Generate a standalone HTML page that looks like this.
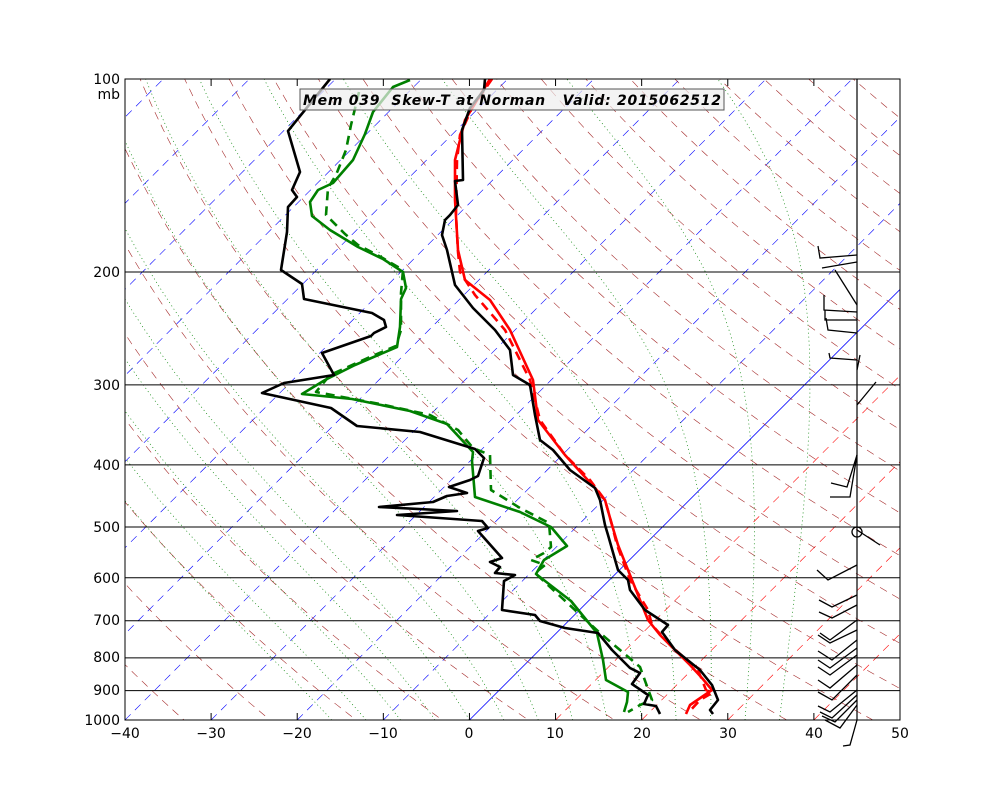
<!DOCTYPE html>
<html><head><meta charset="utf-8"><style>
body{margin:0;background:#fff;}
svg{display:block;font-family:"DejaVu Sans","Liberation Sans",sans-serif;}
</style></head><body>
<svg id="s" width="1000" height="800" xmlns="http://www.w3.org/2000/svg">
<defs><clipPath id="c"><rect x="125" y="79" width="775" height="641"/></clipPath></defs>
<g id="bg" clip-path="url(#c)"></g>
<g id="hl" stroke="#000" stroke-width="1"></g>
<g id="prof" clip-path="url(#c)" fill="none" stroke-width="2.6" stroke-linejoin="round"></g>
<g id="barbs" stroke="#000" stroke-width="1.3" fill="none"></g>
<line x1="857" y1="79" x2="857" y2="720" stroke="#000" stroke-width="1.2"/>
<rect x="125" y="79" width="775" height="641" fill="none" stroke="#000" stroke-width="1"/>
<g id="ticks" stroke="#000" stroke-width="1"></g>
<rect x="300" y="89" width="424" height="21" fill="#eee" fill-opacity="0.7" stroke="#555" stroke-width="1"/>
<text x="512" y="105" font-size="14" font-weight="bold" font-style="italic" text-anchor="middle" textLength="418" xml:space="preserve">Mem 039  Skew-T at Norman   Valid: 2015062512</text>
<g font-size="14" text-anchor="end">
<text x="120" y="84">100</text><text x="120" y="99">mb</text>
<text x="120" y="277">200</text><text x="120" y="390">300</text><text x="120" y="470">400</text>
<text x="120" y="532">500</text><text x="120" y="583">600</text><text x="120" y="625">700</text>
<text x="120" y="662">800</text><text x="120" y="695">900</text><text x="120" y="725">1000</text>
</g>
<g font-size="14" text-anchor="middle">
<text x="125" y="738">−40</text><text x="211" y="738">−30</text><text x="297" y="738">−20</text>
<text x="383" y="738">−10</text><text x="469" y="738">0</text><text x="555" y="738">10</text>
<text x="642" y="738">20</text><text x="728" y="738">30</text><text x="814" y="738">40</text>
<text x="900" y="738">50</text>
</g>
</svg>
<script>
var NS="http://www.w3.org/2000/svg";
function Y(p){return 720-Math.log10(1000/p)*641;}
function X(T,y){return 125+(T+40)*8.611+(720-y);}
function el(g,tag,a){var e=document.createElementNS(NS,tag);for(var k in a)e.setAttribute(k,a[k]);document.getElementById(g).appendChild(e);return e;}
function pl(g,pts,a){a.points=pts.map(function(p){return p[0].toFixed(1)+","+p[1].toFixed(1)}).join(" ");a.fill="none";return el(g,"polyline",a);}
for(var T=-120;T<=50;T+=10){
 var col=T<=0?"#0000ff":"#ff0000";
 var a={stroke:col,"stroke-width":T==0?0.8:0.6};
 if(T!=0)a["stroke-dasharray"]="8,6";
 el("bg","line",Object.assign({x1:X(T,720),y1:720,x2:X(T,79),y2:79},a));
}
for(var th=230;th<=480;th+=10){
 var pts=[];for(var p=1050;p>=95;p-=10){var t=th*Math.pow(p/1000,0.286)-273.15;var y=Y(p);pts.push([X(t,y),y]);}
 pl("bg",pts,{stroke:"#a52a2a","stroke-width":0.6,"stroke-dasharray":"8,6"});
}
function es(t){return 6.112*Math.exp(17.67*t/(t+243.5));}
for(var T0=-16;T0<=36;T0+=4){
 var t=T0+273.15,pts=[],p=1000;
 while(p>=95){var y=Y(p);pts.push([X(t-273.15,y),y]);
  var e=es(t-273.15),rs=0.622*e/(p-e);
  var dT=(287*t+2.5e6*rs)/(1004+2.5e6*2.5e6*rs*0.622/(287*t*t))/p;
  t-=dT*5;p-=5;}
 pl("bg",pts,{stroke:"#008000","stroke-width":0.7,"stroke-dasharray":"1,3"});
}
[200,300,400,500,600,700,800,900].forEach(function(p){var y=Y(p);el("hl","line",{x1:125,y1:y,x2:900,y2:y});});
for(var i=0;i<=9;i++){var x=125+i*86.11;el("ticks","line",{x1:x,y1:720,x2:x,y2:713});el("ticks","line",{x1:x,y1:79,x2:x,y2:86});}
var blk1=[[330,79],[288,131],[300,172],[292,190],[297,197],[288,207],[287,232],[281,270],[302,284],[304,299],[372,313],[384,320],[386,327],[374,333],[371,336],[322,353],[334,375],[284,383],[262,393],[331,408],[357,426],[420,432],[475,449],[484,458],[478,476],[470,480],[449,487],[467,493],[447,496],[433,502],[379,507],[457,511],[397,515],[482,521],[488,528],[478,531],[502,558],[490,562],[500,567],[495,573],[515,575],[504,581],[502,610],[535,615],[540,621],[565,628],[598,633],[612,650],[630,668],[640,673],[632,684],[648,695],[644,704],[656,706],[660,714]];
var grn=[[410,80],[393,87],[373,112],[365,134],[353,160],[333,183],[318,190],[310,202],[312,216],[330,230],[358,247],[383,259],[403,272],[406,288],[401,299],[400,327],[397,347],[355,365],[325,380],[302,394],[352,399],[410,411],[447,424],[473,452],[472,461],[475,497],[520,512],[551,527],[567,546],[544,560],[536,574],[571,601],[597,633],[603,660],[606,680],[628,692],[627,702],[624,712]];
var grnd=[[359,92],[351,125],[346,150],[336,175],[328,188],[326,215],[345,234],[358,245],[381,257],[403,270],[401,293],[401,330],[396,346],[370,357],[330,375],[316,392],[380,404],[430,415],[458,430],[473,448],[490,455],[491,490],[520,508],[549,523],[551,547],[544,553],[531,560],[545,565],[535,573],[575,610],[600,633],[640,667],[652,700],[640,705],[628,712]];
var redd=[[492,79],[472,108],[460,135],[457,160],[456,215],[458,252],[460,272],[475,295],[505,330],[530,380],[540,420],[565,455],[590,480],[605,500],[612,525],[617,545],[630,580],[648,610],[652,625],[670,645],[698,670],[706,690],[712,693],[700,700],[688,713]];
var red=[[490,79],[465,120],[455,160],[455,200],[458,250],[465,280],[490,300],[510,330],[533,380],[538,420],[565,455],[595,488],[605,500],[612,525],[618,545],[628,570],[640,600],[648,620],[660,635],[690,665],[702,678],[712,690],[690,705],[686,714]];
var blk2=[[485,79],[484,90],[470,108],[462,130],[463,180],[455,181],[458,205],[450,215],[445,220],[442,235],[447,250],[455,285],[473,308],[495,330],[510,350],[513,375],[530,385],[535,415],[540,440],[553,450],[570,470],[595,488],[600,500],[605,525],[608,535],[618,570],[628,580],[630,590],[645,610],[668,625],[662,632],[675,650],[700,670],[712,685],[718,700],[710,710],[713,714]];
pl("prof",grnd,{stroke:"#008000","stroke-dasharray":"9,6"});
pl("prof",grn,{stroke:"#008000"});
pl("prof",blk1,{stroke:"#000"});
pl("prof",redd,{stroke:"#ff0000","stroke-dasharray":"9,6"});
pl("prof",red,{stroke:"#ff0000"});
pl("prof",blk2,{stroke:"#000"});
var B=[[[857,255],[820,258],[818,246]],[[857,262],[822,268]],[[857,305],[835,270]],[[857,312],[824,310],[824,295]],[[857,320],[825,320],[825,310]],[[857,333],[828,330],[826,318]],[[857,360],[830,358],[829,353]],[[857,370],[860,355]],[[857,405],[876,382]],[[857,455],[847,487],[831,483]],[[857,455],[850,497],[830,497]],[[857,530],[880,545]],[[857,565],[828,580],[817,570]],[[857,595],[832,607],[819,600]],[[857,605],[832,618],[819,612]],[[857,620],[830,640],[820,633]],[[857,630],[830,643],[818,635]],[[857,640],[832,660],[818,651]],[[857,648],[830,668],[818,660]],[[857,655],[830,675],[818,667]],[[857,665],[830,688],[818,680]],[[857,675],[832,700],[818,692]],[[857,690],[830,712],[818,706]],[[857,695],[832,718],[820,712]],[[857,700],[835,722],[822,716]],[[857,705],[840,728],[825,720]],[[857,720],[850,745],[843,746]]];
B.forEach(function(b){pl("barbs",b,{});});
el("barbs","circle",{cx:857,cy:532,r:5});
</script>
</body></html>
